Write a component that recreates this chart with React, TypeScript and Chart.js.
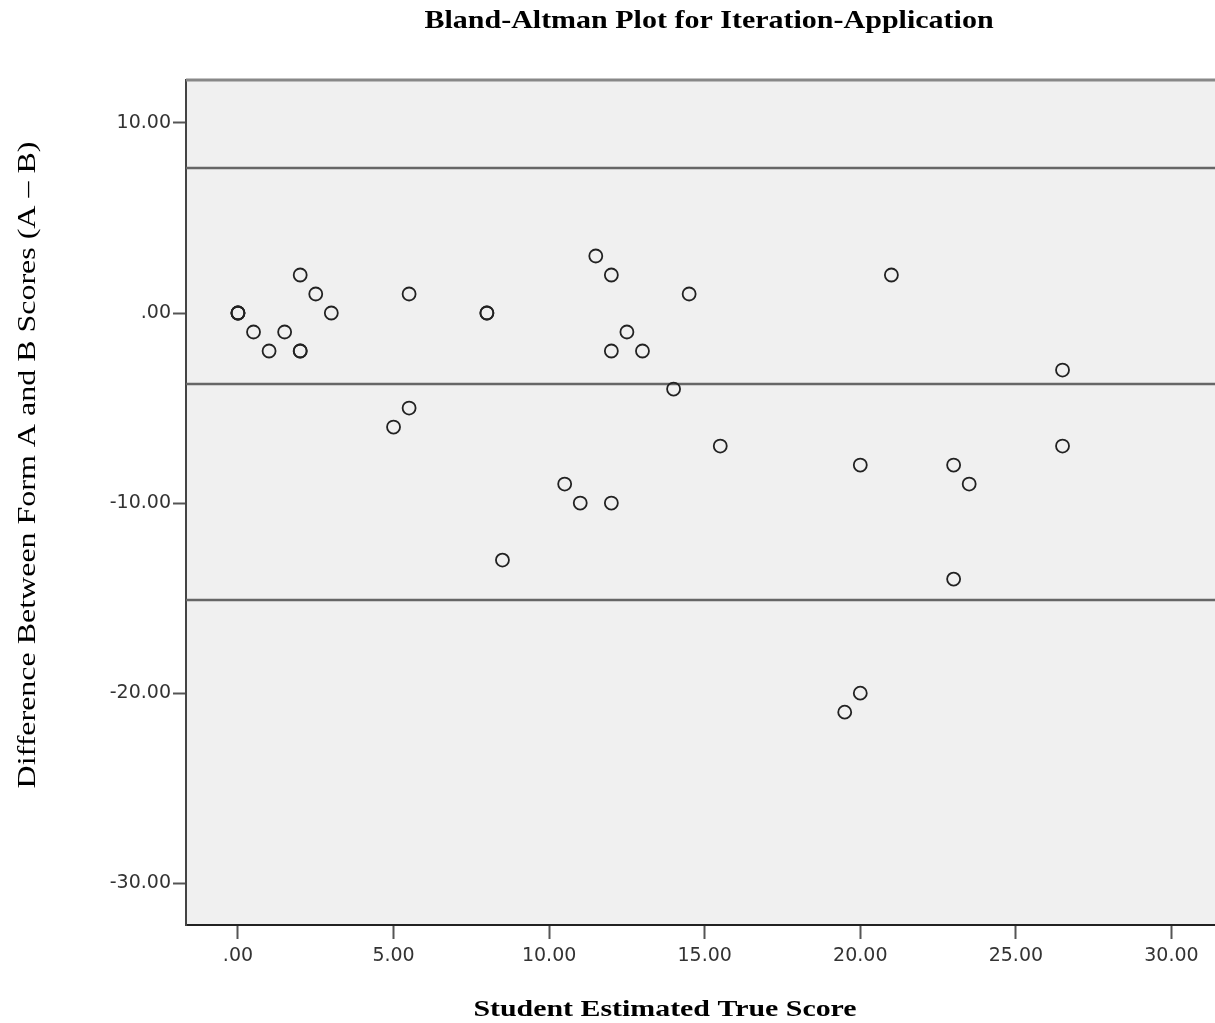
import React, { useEffect, useRef } from "react";
import { Chart, registerables } from "chart.js";

Chart.register(...registerables);

const titleText = "Bland-Altman Plot for Iteration-Application";
const xAxisTitle = "Student Estimated True Score";
const yAxisTitle = "Difference Between Form A and B Scores (A \u2013 B)";

const meanScores = [0, 0, 0, 0.5, 1, 1.5, 2, 2, 2, 2.5, 3, 5, 5.5, 5.5, 8, 8, 8.5, 10.5, 11, 11.5, 12, 12, 12, 12.5, 13, 14, 14.5, 15.5, 19.5, 20, 20, 21, 23, 23, 23.5, 26.5, 26.5];
const differences = [0, 0, 0, -1, -2, -1, 2, -2, -2, 1, 0, -6, 1, -5, 0, 0, -13, -9, -10, 3, 2, -2, -10, -1, -2, -4, 1, -7, -21, -20, -8, 2, -8, -14, -9, -3, -7];

const limitLines = [7.63, -3.74, -15.1];

const xTicks = [0, 5, 10, 15, 20, 25, 30];
const yTicks = [10, 0, -10, -20, -30];

const xRange = [-1.67, 31.4];
const yRange = [-32.2, 12.26];

const fmt = (v: number) => (v === 0 ? ".00" : v.toFixed(2));

export default function App() {
  const ref = useRef<HTMLCanvasElement | null>(null);

  useEffect(() => {
    document.body.style.margin = "0";
    document.body.style.overflow = "hidden";
    const canvas = ref.current;
    if (!canvas) return;

    const bgPlugin = {
      id: "bgPlugin",
      beforeDraw(chart: any) {
        const { ctx, chartArea } = chart;
        ctx.save();
        ctx.fillStyle = "#f0f0f0";
        ctx.fillRect(chartArea.left, chartArea.top, chartArea.right - chartArea.left, chartArea.bottom - chartArea.top);
        ctx.restore();
      },
      afterDraw(chart: any) {
        const { ctx, chartArea } = chart;
        ctx.save();
        ctx.strokeStyle = "#888888";
        ctx.lineWidth = 3;
        ctx.beginPath();
        ctx.moveTo(chartArea.left, chartArea.top);
        ctx.lineTo(chartArea.right, chartArea.top);
        ctx.stroke();

        ctx.fillStyle = "#000";
        ctx.textAlign = "center";
        ctx.textBaseline = "middle";

        ctx.save();
        ctx.translate(709, 22);
        ctx.scale(1.2, 1);
        ctx.font = 'bold 25px "Liberation Serif"';
        ctx.fillText(titleText, 0, 0);
        ctx.restore();

        ctx.save();
        ctx.translate(665, 1010);
        ctx.scale(1.245, 1);
        ctx.font = 'bold 24px "Liberation Serif"';
        ctx.fillText(xAxisTitle, 0, 0);
        ctx.restore();

        ctx.save();
        ctx.translate(28, 465);
        ctx.rotate(-Math.PI / 2);
        ctx.scale(1.23, 1);
        ctx.font = '26px "Liberation Serif"';
        ctx.fillText(yAxisTitle, 0, 0);
        ctx.restore();

        ctx.restore();
      },
    };

    const lineSets = limitLines.map((v) => ({
      type: "line" as const,
      data: [
        { x: xRange[0], y: v },
        { x: xRange[1], y: v },
      ],
      borderColor: "#666666",
      borderWidth: 2.5,
      pointRadius: 0,
      order: 2,
    }));

    const chart = new Chart(canvas, {
      type: "scatter",
      data: {
        datasets: [
          {
            data: meanScores.map((x, i) => ({ x, y: differences[i] })),
            pointRadius: 6.5,
            pointBorderWidth: 1.8,
            pointBorderColor: "#222222",
            pointBackgroundColor: "rgba(0,0,0,0)",
            order: 1,
          } as any,
          ...lineSets,
        ],
      },
      options: {
        animation: false,
        responsive: false,
        layout: { autoPadding: false, padding: { top: 80, left: 0, right: 0, bottom: 0 } },
        plugins: { legend: { display: false }, tooltip: { enabled: false }, title: { display: false } },
        scales: {
          x: {
            type: "linear",
            min: xRange[0],
            max: xRange[1],
            afterBuildTicks: (s: any) => {
              s.ticks = xTicks.map((v) => ({ value: v }));
            },
            afterFit: (s: any) => {
              s.height = 98;
            },
            border: { display: true, color: "#222222", width: 2 },
            grid: { drawOnChartArea: false, drawTicks: true, tickLength: 14, tickColor: "#555555", tickWidth: 2 },
            ticks: {
              padding: 6,
              color: "#333333",
              font: { family: "DejaVu Sans", size: 19 },
              callback: (v: any) => fmt(Number(v)),
              maxRotation: 0,
            },
          },
          y: {
            type: "linear",
            min: yRange[0],
            max: yRange[1],
            afterBuildTicks: (s: any) => {
              s.ticks = yTicks.map((v) => ({ value: v }));
            },
            afterFit: (s: any) => {
              s.width = 186;
            },
            border: { display: true, color: "#444444", width: 2 },
            grid: { drawOnChartArea: false, drawTicks: true, tickLength: 13, tickColor: "#555555", tickWidth: 2 },
            ticks: {
              padding: 2,
              color: "#333333",
              font: { family: "DejaVu Sans", size: 19 },
              callback: (v: any) => fmt(Number(v)),
            },
          },
        },
      },
      plugins: [bgPlugin],
    });

    return () => chart.destroy();
  }, []);

  return (
    <div style={{ width: 1215, height: 1023, overflow: "hidden" }}>
      <canvas ref={ref} width={1215} height={1023} style={{ display: "block" }} />
    </div>
  );
}
